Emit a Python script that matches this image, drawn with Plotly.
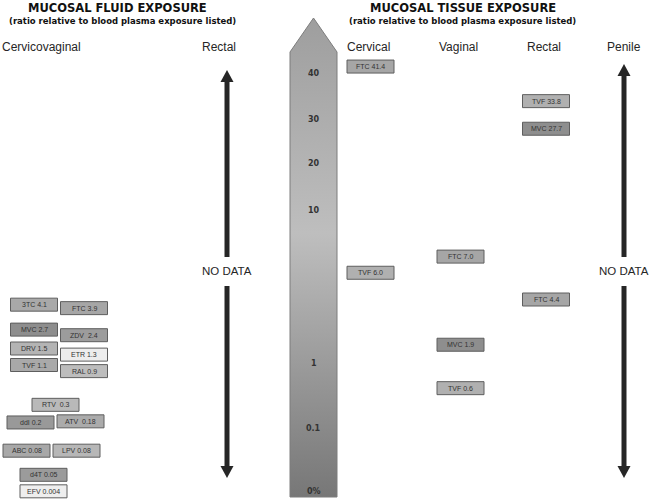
import numpy as np
import plotly.graph_objects as go

# ---------------- data ----------------
FLUID_DRUGS = ["3TC", "FTC", "MVC", "ZDV", "DRV", "ETR", "TVF", "RAL",
               "RTV", "ddI", "ATV", "ABC", "LPV", "d4T", "EFV"]
FLUID_VALUES = [4.1, 3.9, 2.7, 2.4, 1.5, 1.3, 1.1, 0.9,
                0.3, 0.2, 0.18, 0.08, 0.08, 0.05, 0.004]

TISSUE_SITES = ["Cervical", "Rectal", "Rectal", "Vaginal", "Cervical", "Rectal", "Vaginal", "Vaginal"]
TISSUE_DRUGS = ["FTC", "TVF", "MVC", "FTC", "TVF", "FTC", "MVC", "TVF"]
TISSUE_VALUES = [41.4, 33.8, 27.7, 7.0, 6.0, 4.4, 1.9, 0.6]

SCALE_TICKS = [0, 0.1, 1, 10, 20, 30, 40]
SCALE_TICK_TEXT = ["0%", "0.1", "1", "10", "20", "30", "40"]

FLUID_COLUMNS = ["Cervicovaginal", "Rectal"]
TISSUE_COLUMNS = ["Cervical", "Vaginal", "Rectal", "Penile"]
NO_DATA_TEXT = "NO DATA"

# ---------------- layout / style ----------------
W, H = 652, 499
SCALE_POS = [491, 428, 363, 210, 163, 119, 73]     # axis position of each scale tick
SEG_POW = [2.0, 0.75, 0.85, 0.75, 0.75, 0.75]       # power used inside each scale segment
BOX_W, BOX_H, MIN_SEP = 47, 13, 16.5
FLUID_BOX_X = [34, 84, 34, 84, 34, 84, 34, 84, 55.5, 30.5, 80.5, 26.5, 76.5, 43.5, 43.5]
SITE_X = {"Cervical": 370.5, "Vaginal": 460.5, "Rectal": 546, "Penile": 624}
FLUID_COL_X = {"Cervicovaginal": 41, "Rectal": 219}
DRUG_FILL = {"3TC": "#a9a9a9", "FTC": "#a6a6a6", "MVC": "#8e8e8e", "ZDV": "#9c9c9c",
             "DRV": "#b4b4b4", "ETR": "#ededed", "TVF": "#a9a9a9", "RAL": "#bdbdbd",
             "RTV": "#b9b9b9", "ddI": "#999999", "ATV": "#ababab", "ABC": "#a8a8a8",
             "LPV": "#b7b7b7", "d4T": "#9b9b9b", "EFV": "#eeeeee"}
TISSUE_FILL = {"TVF": "#b0b0b0"}
INK = "#262626"


def scale(v):
    t = SCALE_TICKS
    if v >= t[-1]:
        slope = (SCALE_POS[-1] - SCALE_POS[-2]) / (t[-1] - t[-2])
        return SCALE_POS[-1] + (v - t[-1]) * slope
    for i in range(len(t) - 1):
        a, b = t[i], t[i + 1]
        if a <= v <= b:
            p = SEG_POW[i]
            f = (v ** p - a ** p) / (b ** p - a ** p)
            return SCALE_POS[i] + f * (SCALE_POS[i + 1] - SCALE_POS[i])
    return SCALE_POS[0]


def resolve(xs, ys, vals):
    ys = list(ys)
    n = len(ys)
    for _ in range(200):
        moved = False
        for i in range(n):
            for j in range(i + 1, n):
                if abs(xs[i] - xs[j]) < BOX_W and abs(ys[i] - ys[j]) < MIN_SEP - 1e-6:
                    if vals[i] > vals[j] or (vals[i] == vals[j] and ys[i] <= ys[j]):
                        up, dn = i, j
                    else:
                        up, dn = j, i
                    d = (MIN_SEP - (ys[dn] - ys[up])) / 2
                    ys[up] -= d
                    ys[dn] += d
                    moved = True
        if not moved:
            break
    return ys


fig = go.Figure()
shapes, annos = [], []

# centre scale arrow with gradient
ax_x = [290, 290, 313.5, 337, 337, 290]
ax_y = [497, 52, 18, 52, 497, 497]
fig.add_trace(go.Scatter(
    x=ax_x, y=ax_y, mode="lines", fill="toself",
    line=dict(color="#7d7d7d", width=1),
    fillgradient=dict(type="vertical", start=18, stop=497,
                      colorscale=[[0, "#9e9e9e"], [0.45, "#bebebe"], [1, "#777777"]]),
    hoverinfo="skip", showlegend=False))
for tv, tt in zip(SCALE_TICKS, SCALE_TICK_TEXT):
    annos.append(dict(x=313.5, y=scale(tv), text=f"<b>{tt}</b>", showarrow=False,
                      font=dict(family="DejaVu Sans", size=8, color="#333333")))


def add_box(xc, yc, label, fill):
    shapes.append(dict(type="rect", x0=xc - BOX_W / 2, x1=xc + BOX_W / 2,
                       y0=yc - BOX_H / 2, y1=yc + BOX_H / 2,
                       fillcolor=fill, line=dict(color="#5e5e5e", width=1)))
    annos.append(dict(x=xc, y=yc, text=label, showarrow=False,
                      font=dict(family="Liberation Sans", size=7, color="#333333")))


# fluid boxes
fy = resolve(FLUID_BOX_X, [scale(v) for v in FLUID_VALUES], FLUID_VALUES)
for d, v, xc, yc in zip(FLUID_DRUGS, FLUID_VALUES, FLUID_BOX_X, fy):
    sep = "  " if d in ("ZDV", "RTV", "ATV") else " "
    add_box(xc, yc, f"{d}{sep}{v:g}", DRUG_FILL[d])

# tissue boxes
tx = [SITE_X[s] for s in TISSUE_SITES]
ty = resolve(tx, [scale(v) for v in TISSUE_VALUES], TISSUE_VALUES)
for d, v, xc, yc in zip(TISSUE_DRUGS, TISSUE_VALUES, tx, ty):
    add_box(xc, yc, f"{d} {v:.1f}", TISSUE_FILL.get(d, DRUG_FILL[d]))


# double arrows with NO DATA
def double_arrow(xc, top):
    shapes.append(dict(type="rect", x0=xc - 2.5, x1=xc + 2.5, y0=top + 12, y1=257,
                       fillcolor=INK, line=dict(width=0)))
    shapes.append(dict(type="path", path=f"M{xc-6.5},{top+12} L{xc},{top} L{xc+6.5},{top+12} Z",
                       fillcolor=INK, line=dict(width=0)))
    shapes.append(dict(type="rect", x0=xc - 2.5, x1=xc + 2.5, y0=286, y1=466,
                       fillcolor=INK, line=dict(width=0)))
    shapes.append(dict(type="path", path=f"M{xc-6.5},466 L{xc},478 L{xc+6.5},466 Z",
                       fillcolor=INK, line=dict(width=0)))
    annos.append(dict(x=xc, y=271, text=NO_DATA_TEXT, showarrow=False,
                      font=dict(family="Liberation Sans", size=11.5, color=INK)))


double_arrow(FLUID_COL_X["Rectal"] + 8, 70)
double_arrow(SITE_X["Penile"], 64)

# headers
for name, xc in [("MUCOSAL FLUID EXPOSURE", 117), ("MUCOSAL TISSUE EXPOSURE", 463)]:
    annos.append(dict(x=xc, y=8, text=f"<b>{name}</b>", showarrow=False,
                      font=dict(family="DejaVu Sans", size=11.5, color="#111111")))
for xc in (122, 462):
    annos.append(dict(x=xc, y=20.5, text="<b>(ratio relative to blood plasma exposure listed)</b>",
                      showarrow=False, font=dict(family="DejaVu Sans", size=8.5, color="#111111")))
for c in FLUID_COLUMNS:
    annos.append(dict(x=FLUID_COL_X[c], y=47, text=c, showarrow=False,
                      font=dict(family="Liberation Sans", size=12, color=INK)))
for c in TISSUE_COLUMNS:
    annos.append(dict(x=SITE_X[c] - (2 if c != "Penile" else 0), y=47, text=c, showarrow=False,
                      font=dict(family="Liberation Sans", size=12, color=INK)))

fig.update_layout(
    width=W, height=H, margin=dict(l=0, r=0, t=0, b=0),
    paper_bgcolor="white", plot_bgcolor="white",
    xaxis=dict(range=[0, W], visible=False, fixedrange=True),
    yaxis=dict(range=[H, 0], visible=False, fixedrange=True),
    shapes=shapes, annotations=annos, showlegend=False,
)
fig.write_html("out.html", post_script="document.body.style.margin='0';",
               config={"displayModeBar": False})
